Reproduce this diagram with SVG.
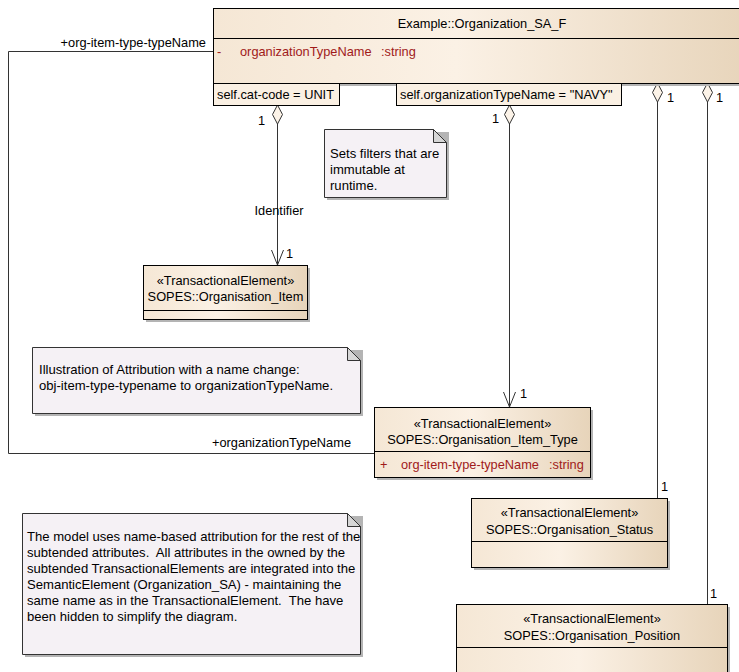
<svg xmlns="http://www.w3.org/2000/svg" width="739" height="672" viewBox="0 0 739 672">
<defs>
<linearGradient id="cls" x1="0" y1="0" x2="1" y2="0">
<stop offset="0" stop-color="#F5E7D5"/>
<stop offset="0.45" stop-color="#FBF1E5"/>
<stop offset="1" stop-color="#E7D4BA"/>
</linearGradient>
<style>
.t{font-family:"Liberation Sans",Arial,sans-serif;font-size:12.8px;fill:#000;white-space:pre}
.n{font-size:13.1px}
.m{text-anchor:middle}
.r{text-anchor:end}
.attr{fill:#A01A1A}
.box{fill:url(#cls);stroke:#000;stroke-width:1}
.shadow{fill:#B4B4B4}
.div{stroke:#000;stroke-width:1;fill:none}
.note{fill:#F5F1F5;stroke:#333;stroke-width:1}
.fold{fill:#D6D6D6;stroke:#333;stroke-width:1}
.con{fill:#FAF0E3;stroke:#000;stroke-width:1}
.ln{fill:none;stroke:#333;stroke-width:1}
.dia{fill:#FCF3E8;stroke:#333;stroke-width:1}
</style>
</defs>
<rect width="739" height="672" fill="#FFFFFF"/>

<g id="connectors">
<polyline class="ln" points="213.5,51.5 8.5,51.5 8.5,453.5 374.5,453.5"/>
<text class="t r" x="206" y="47">+org-item-type-typeName</text>
<text class="t r" x="351" y="447">+organizationTypeName</text>

<line class="ln" x1="277.5" y1="124" x2="277.5" y2="265"/>
<polygon class="dia" points="277.5,105 282.5,114.5 277.5,124 272.5,114.5"/>
<polyline class="ln" points="271.5,250 277.5,265 283.5,250"/>
<text class="t" x="258" y="125">1</text>
<text class="t m" x="279" y="215">Identifier</text>
<text class="t" x="286" y="258">1</text>

<line class="ln" x1="509.5" y1="124" x2="509.5" y2="407"/>
<polygon class="dia" points="509.5,105 514.5,114.5 509.5,124 504.5,114.5"/>
<polyline class="ln" points="503.5,392 509.5,407 515.5,392"/>
<text class="t" x="492" y="123">1</text>
<text class="t" x="520" y="398">1</text>

<line class="ln" x1="657.5" y1="102" x2="657.5" y2="498"/>
<polygon class="dia" points="657.5,83 662.5,92.5 657.5,102 652.5,92.5"/>
<text class="t" x="667" y="102">1</text>
<text class="t" x="661" y="491">1</text>

<line class="ln" x1="707.5" y1="102" x2="707.5" y2="604"/>
<polygon class="dia" points="707.5,83 712.5,92.5 707.5,102 702.5,92.5"/>
<text class="t" x="716" y="102">1</text>
<text class="t" x="710" y="598">1</text>
</g>

<g id="Organization_SA_F">
<rect class="shadow" x="216" y="11" width="540" height="75"/>
<rect class="box" x="213.5" y="8.5" width="540" height="75"/>
<line class="div" x1="213.5" y1="38.5" x2="753.5" y2="38.5"/>
<text class="t m" x="482" y="28">Example::Organization_SA_F</text>
<text class="t attr" x="217" y="56">-</text>
<text class="t attr" x="240" y="56">organizationTypeName</text>
<text class="t attr" x="381" y="56">:string</text>
</g>

<g id="constraint_catcode">
<rect class="con" x="213.5" y="83.5" width="126" height="22"/>
<text class="t" x="217" y="99">self.cat-code = UNIT</text>
</g>

<g id="constraint_navy">
<rect class="con" x="396.5" y="83.5" width="225" height="22"/>
<text class="t" x="400" y="99">self.organizationTypeName = "NAVY"</text>
</g>

<g id="note_filters">
<path class="shadow" d="M327,132 H449 V200 H327 Z"/>
<path class="note" d="M324.5,129.5 H433.5 L446.5,142.5 V197.5 H324.5 Z"/>
<path class="fold" d="M433.5,129.5 V142.5 H446.5 Z"/>
<text class="t n" x="330" y="158">Sets filters that are</text>
<text class="t n" x="330" y="174">immutable at</text>
<text class="t n" x="330" y="190">runtime.</text>
</g>

<g id="Organisation_Item">
<rect class="shadow" x="146" y="268" width="164" height="54"/>
<rect class="box" x="143.5" y="265.5" width="164" height="54"/>
<line class="div" x1="143.5" y1="310.5" x2="307.5" y2="310.5"/>
<text class="t m" x="225.5" y="285">«TransactionalElement»</text>
<text class="t m" x="225.5" y="301">SOPES::Organisation_Item</text>
</g>

<g id="note_illustration">
<path class="shadow" d="M35,350 H363 V416 H35 Z"/>
<path class="note" d="M32.5,347.5 H347.5 L360.5,360.5 V413.5 H32.5 Z"/>
<path class="fold" d="M347.5,347.5 V360.5 H360.5 Z"/>
<text class="t n" x="39" y="374">Illustration of Attribution with a name change:</text>
<text class="t n" x="39" y="390">obj-item-type-typename to organizationTypeName.</text>
</g>

<g id="Organisation_Item_Type">
<rect class="shadow" x="377" y="410" width="216" height="70"/>
<rect class="box" x="374.5" y="407.5" width="216" height="70"/>
<line class="div" x1="374.5" y1="451.5" x2="590.5" y2="451.5"/>
<text class="t m" x="482.5" y="428">«TransactionalElement»</text>
<text class="t m" x="482.5" y="444">SOPES::Organisation_Item_Type</text>
<text class="t attr" x="380" y="469">+</text>
<text class="t attr" x="401" y="469">org-item-type-typeName</text>
<text class="t attr" x="549" y="469">:string</text>
</g>

<g id="note_model">
<path class="shadow" d="M25,516 H363 V657 H25 Z"/>
<path class="note" d="M22.5,513.5 H347.5 L360.5,526.5 V654.5 H22.5 Z"/>
<path class="fold" d="M347.5,513.5 V526.5 H360.5 Z"/>
<text class="t n" x="27" y="541">The model uses name-based attribution for the rest of the</text>
<text class="t n" x="27" y="557" xml:space="preserve">subtended attributes.  All attributes in the owned by the</text>
<text class="t n" x="27" y="573">subtended TransactionalElements are integrated into the</text>
<text class="t n" x="27" y="589">SemanticElement (Organization_SA) - maintaining the</text>
<text class="t n" x="27" y="605" xml:space="preserve">same name as in the TransactionalElement.  The have</text>
<text class="t n" x="27" y="621">been hidden to simplify the diagram.</text>
</g>

<g id="Organisation_Status">
<rect class="shadow" x="474" y="501" width="196" height="69"/>
<rect class="box" x="471.5" y="498.5" width="196" height="69"/>
<line class="div" x1="471.5" y1="541.5" x2="667.5" y2="541.5"/>
<text class="t m" x="569.5" y="517">«TransactionalElement»</text>
<text class="t m" x="569.5" y="534">SOPES::Organisation_Status</text>
</g>

<g id="Organisation_Position">
<rect class="shadow" x="459" y="607" width="271" height="80"/>
<rect class="box" x="456.5" y="604.5" width="271" height="80"/>
<line class="div" x1="456.5" y1="647.5" x2="727.5" y2="647.5"/>
<text class="t m" x="592" y="623">«TransactionalElement»</text>
<text class="t m" x="592" y="640">SOPES::Organisation_Position</text>
</g>
</svg>
